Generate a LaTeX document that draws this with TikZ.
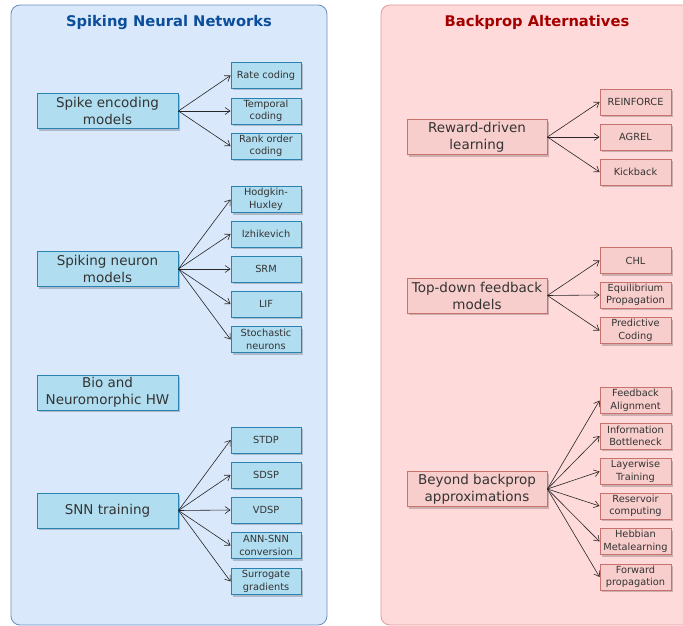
\documentclass[tikz,border=0pt]{standalone}
\usepackage{fontspec}
\setmainfont{DejaVu Sans}
\usetikzlibrary{shadows,arrows.meta}
\definecolor{bluepanel}{HTML}{DAE8FC}
\definecolor{bluepaneldraw}{HTML}{6C8EBF}
\definecolor{bluebox}{HTML}{B1DDF0}
\definecolor{blueboxdraw}{HTML}{2A82B0}
\definecolor{bluetitle}{HTML}{0B4F9C}
\definecolor{redpanel}{HTML}{FFDADA}
\definecolor{redpaneldraw}{HTML}{E89A9A}
\definecolor{redbox}{HTML}{F8CECC}
\definecolor{redboxdraw}{HTML}{C87270}
\definecolor{redtitle}{HTML}{A50000}
\tikzset{
  panel/.style={rounded corners=9pt, line width=0.8pt},
  boxbase/.style={rectangle, inner sep=0pt, align=center, line width=0.9pt,
    drop shadow={shadow xshift=2pt, shadow yshift=-2pt, fill=black, opacity=0.2}},
  mainbox/.style={boxbase, minimum width=141pt, minimum height=35pt, font=\fontsize{13.5}{17}\selectfont},
  smallbox/.style={boxbase, minimum width=70pt, minimum height=26pt, font=\fontsize{9.8}{12.5}\selectfont},
  bluestyle/.style={fill=bluebox, draw=blueboxdraw, text=black!80},
  redstyle/.style={fill=redbox, draw=redboxdraw, text=black!80},
  title/.style={font=\bfseries\fontsize{14.7}{17}\selectfont},
  conn/.style={-{Straight Barb[length=5pt,width=7pt]}, line width=0.6pt, draw=black!85},
}
\begin{document}
\begin{tikzpicture}[x=1pt,y=-1pt]
\useasboundingbox (0,0) rectangle (683,626);
\begin{scope}
\clip (0,0) rectangle (683,626);
% panels
\draw[panel, fill=bluepanel, draw=bluepaneldraw] (11,5) rectangle (327,625);
\draw[panel, fill=redpanel, draw=redpaneldraw] (381,5) rectangle (700,625);
\end{scope}
\node[title, text=bluetitle] (t1) at (169,22.5) {Spiking Neural Networks};
\node[title, text=redtitle] (t2) at (537,22.5) {Backprop Alternatives};

% left column
\node[mainbox, bluestyle] (enc) at (107.5,111) {Spike encoding\\models};
\node[smallbox, bluestyle] (rate) at (266,75.5) {Rate coding};
\node[smallbox, bluestyle] (temp) at (266,111) {Temporal\\coding};
\node[smallbox, bluestyle] (rank) at (266,146) {Rank order\\coding};

\node[mainbox, bluestyle] (neu) at (107.5,269) {Spiking neuron\\models};
\node[smallbox, bluestyle] (hh) at (266,199.5) {Hodgkin-\\Huxley};
\node[smallbox, bluestyle] (izh) at (266,234) {Izhikevich};
\node[smallbox, bluestyle] (srm) at (266,269) {SRM};
\node[smallbox, bluestyle] (lif) at (266,304) {LIF};
\node[smallbox, bluestyle] (sto) at (266,339.5) {Stochastic\\neurons};

\node[mainbox, bluestyle] (bio) at (107.5,392.5) {Bio and\\Neuromorphic HW};

\node[mainbox, bluestyle] (snn) at (107.5,510.5) {SNN training};
\node[smallbox, bluestyle] (stdp) at (266,440) {STDP};
\node[smallbox, bluestyle] (sdsp) at (266,475) {SDSP};
\node[smallbox, bluestyle] (vdsp) at (266,510) {VDSP};
\node[smallbox, bluestyle] (ann) at (266,545.5) {ANN-SNN\\conversion};
\node[smallbox, bluestyle] (sur) at (266,581.5) {Surrogate\\gradients};

% right column
\node[mainbox, redstyle, minimum width=140pt] (rew) at (477,137) {Reward-driven\\learning};
\node[smallbox, redstyle, minimum width=71pt] (reinf) at (635.5,102) {REINFORCE};
\node[smallbox, redstyle, minimum width=71pt] (agrel) at (635.5,137) {AGREL};
\node[smallbox, redstyle, minimum width=71pt] (kick) at (635.5,172) {Kickback};

\node[mainbox, redstyle, minimum width=140pt] (top) at (477,295.5) {Top-down feedback\\models};
\node[smallbox, redstyle, minimum width=71pt] (chl) at (635.5,260.5) {CHL};
\node[smallbox, redstyle, minimum width=71pt] (eqp) at (635.5,295) {Equilibrium\\Propagation};
\node[smallbox, redstyle, minimum width=71pt] (pc) at (635.5,330.5) {Predictive\\Coding};

\node[mainbox, redstyle, minimum width=140pt] (bey) at (477,489) {Beyond backprop\\approximations};
\node[smallbox, redstyle, minimum width=71pt] (fa) at (635.5,400.5) {Feedback\\Alignment};
\node[smallbox, redstyle, minimum width=71pt] (ib) at (635.5,436) {Information\\Bottleneck};
\node[smallbox, redstyle, minimum width=71pt] (lw) at (635.5,471.5) {Layerwise\\Training};
\node[smallbox, redstyle, minimum width=71pt] (res) at (635.5,506) {Reservoir\\computing};
\node[smallbox, redstyle, minimum width=71pt] (heb) at (635.5,541.5) {Hebbian\\Metalearning};
\node[smallbox, redstyle, minimum width=71pt] (fwd) at (635.5,577) {Forward\\propagation};

% connectors
\foreach \s/\t in {enc/rate,enc/temp,enc/rank,
  neu/hh,neu/izh,neu/srm,neu/lif,neu/sto,
  snn/stdp,snn/sdsp,snn/vdsp,snn/ann,snn/sur,
  rew/reinf,rew/agrel,rew/kick,
  top/chl,top/eqp,top/pc,
  bey/fa,bey/ib,bey/lw,bey/res,bey/heb,bey/fwd}
  \draw[conn] (\s.east) -- (\t.west);
\end{tikzpicture}
\end{document}
